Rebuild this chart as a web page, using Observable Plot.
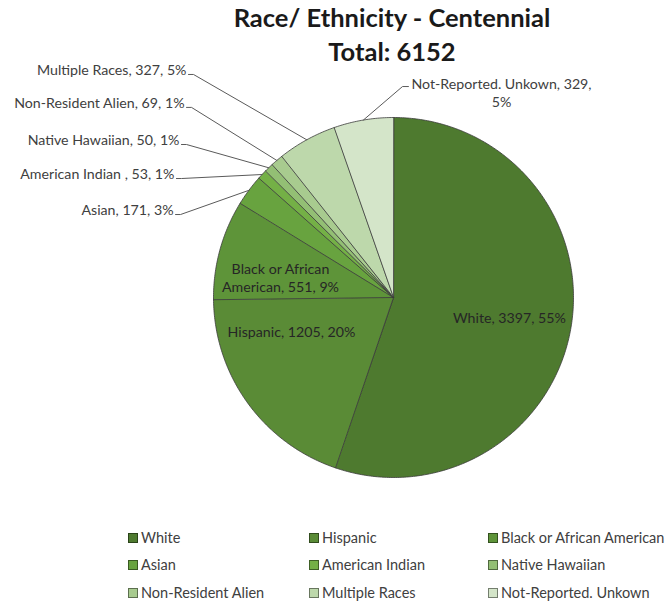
<!DOCTYPE html>
<html>
<head>
<meta charset="utf-8">
<script src="https://cdn.jsdelivr.net/npm/d3@7"></script>
<script src="https://cdn.jsdelivr.net/npm/@observablehq/plot@0.6"></script>
<style>
  body { margin: 0; background: #fff; font-family: Lato, "Open Sans", sans-serif; }
  #wrap { position: relative; width: 666px; height: 605px; overflow: hidden; }
  #title { height: 64px; box-sizing: border-box; padding-top: 0px; padding-left: 118px; text-align: center;
           font-weight: bold; font-size: 25.5px; line-height: 34px; color: #1a1a1a; white-space: nowrap; }
  #chart svg { display: block; }
  #legend { position: relative; height: 85px; font-size: 14.5px; color: #404040; }
  .item { position: absolute; height: 16px; line-height: 16px; white-space: nowrap; }
  .sw { position: absolute; left: 0; top: 3px; width: 8px; height: 8px; border: 1px solid rgba(0,0,0,0.45); }
  .lb { position: absolute; left: 13px; top: 0; }
</style>
</head>
<body>
<div id="wrap">
  <div id="title">Race/ Ethnicity - Centennial<br>Total: 6152</div>
  <div id="chart"></div>
  <div id="legend"></div>
</div>
<script>
// ---- data ----
const categories = ["White", "Hispanic", "Black or African American", "Asian", "American Indian",
                    "Native Hawaiian", "Non-Resident Alien", "Multiple Races", "Not-Reported. Unkown"];
const counts = [3397, 1205, 551, 171, 53, 50, 69, 327, 329];
const percents = [55, 20, 9, 3, 1, 1, 1, 5, 5];
const labelNames = ["White", "Hispanic", "Black or African American", "Asian", "American Indian ",
                    "Native Hawaiian", "Non-Resident Alien", "Multiple Races", "Not-Reported. Unkown"];
const colors = ["#4e7a2f", "#5a8b36", "#5e9439", "#68a33f", "#74b046",
                "#93bf74", "#a8cb8f", "#bdd8ab", "#d4e5c9"];

// ---- label layout (pie radius units, centre = 0,0) ----
const labelLayout = [
  {name: "White", kind: "in", lx: 0.644, ly: -0.111},
  {name: "Hispanic", kind: "in", lx: -0.567, ly: -0.189},
  {name: "Black or African American", kind: "in", lx: -0.628, ly: 0.111},
  {name: "Asian", kind: "left", lx: -1.222, ly: 0.483},
  {name: "American Indian", kind: "left", lx: -1.217, ly: 0.683},
  {name: "Native Hawaiian", kind: "left", lx: -1.189, ly: 0.872},
  {name: "Non-Resident Alien", kind: "left", lx: -1.161, ly: 1.078},
  {name: "Multiple Races", kind: "left", lx: -1.150, ly: 1.261},
  {name: "Not-Reported. Unkown", kind: "top", lx: 0.600, ly: 1.139, ex: 0.083, ey: 1.172, bx: 0.050}
];

const rows = categories.map((name, i) => {
  let text = `${labelNames[i]}, ${counts[i]}, ${percents[i]}%`;
  if (i === 2) text = text.replace("African ", "African\n");
  if (i === 8) text = text.replace(`${counts[i]}, `, `${counts[i]},\n`);
  return {name, count: counts[i], text};
});

const arcs = d3.pie().sort(null).value(d => d.count)(rows);
const onCircle = (a, r) => ({x: r * Math.sin(a), y: r * Math.cos(a)});

// slice polygons
const slicePts = [];
arcs.forEach(p => {
  const name = p.data.name;
  slicePts.push({name, x: 0, y: 0});
  const n = Math.max(2, Math.ceil((p.endAngle - p.startAngle) / 0.01));
  for (let k = 0; k <= n; k++) {
    const a = p.startAngle + (p.endAngle - p.startAngle) * k / n;
    slicePts.push({name, ...onCircle(a, 1)});
  }
});

// labels + leaders
const labels = labelLayout.map(l => {
  const r = rows.find(d => d.name === l.name);
  return {...l, text: r.text};
});
const leaderPts = [];
labels.filter(l => l.kind !== "in").forEach(l => {
  const p = arcs.find(a => a.data.name === l.name);
  const mid = (p.startAngle + p.endAngle) / 2;
  const ex = l.ex ?? l.lx + 0.011;
  const ey = l.ey ?? l.ly - 0.022;
  const bx = l.bx ?? l.lx + 0.039;
  leaderPts.push({name: l.name, ...onCircle(mid, 1)});
  leaderPts.push({name: l.name, x: bx, y: ey});
  leaderPts.push({name: l.name, x: ex, y: ey});
});

const font = "Lato, 'Open Sans', sans-serif";
const fs = 14.2;
const chart = Plot.plot({
  width: 666,
  height: 456,
  marginLeft: 213,
  marginRight: 93,
  marginTop: 53,
  marginBottom: 43,
  x: {domain: [-1, 1], axis: null},
  y: {domain: [-1, 1], axis: null},
  color: {domain: categories, range: colors},
  style: {fontFamily: font, background: "#fff", overflow: "visible"},
  marks: [
    Plot.line(slicePts, {x: "x", y: "y", z: "name", fill: "name", stroke: "#3a3a3a",
                         strokeWidth: 0.8, strokeLinejoin: "round", curve: "linear-closed"}),
    Plot.line(leaderPts, {x: "x", y: "y", z: "name", stroke: "#5a5a5a", strokeWidth: 1}),
    Plot.text(labels.filter(l => l.kind === "in"), {x: "lx", y: "ly", text: "text", textAnchor: "middle",
              fontSize: fs, lineHeight: 1.27, fill: "#262626"}),
    Plot.text(labels.filter(l => l.kind === "left"), {x: "lx", y: "ly", text: "text", textAnchor: "end",
              fontSize: fs, fill: "#404040"}),
    Plot.text(labels.filter(l => l.kind === "top"), {x: "lx", y: "ly", text: "text", textAnchor: "middle",
              fontSize: fs, lineHeight: 1.27, fill: "#404040"})
  ]
});
document.getElementById("chart").appendChild(chart);

// legend
const legendCols = [128, 309, 488];
const legendRows = [10, 37, 65];
const legend = document.getElementById("legend");
categories.forEach((c, i) => {
  const it = document.createElement("div");
  it.className = "item";
  it.style.left = legendCols[i % 3] + "px";
  it.style.top = legendRows[Math.floor(i / 3)] + "px";
  const sw = document.createElement("div");
  sw.className = "sw";
  sw.style.background = colors[i];
  const lb = document.createElement("div");
  lb.className = "lb";
  lb.textContent = c;
  it.appendChild(sw); it.appendChild(lb);
  legend.appendChild(it);
});
</script>
</body>
</html>
